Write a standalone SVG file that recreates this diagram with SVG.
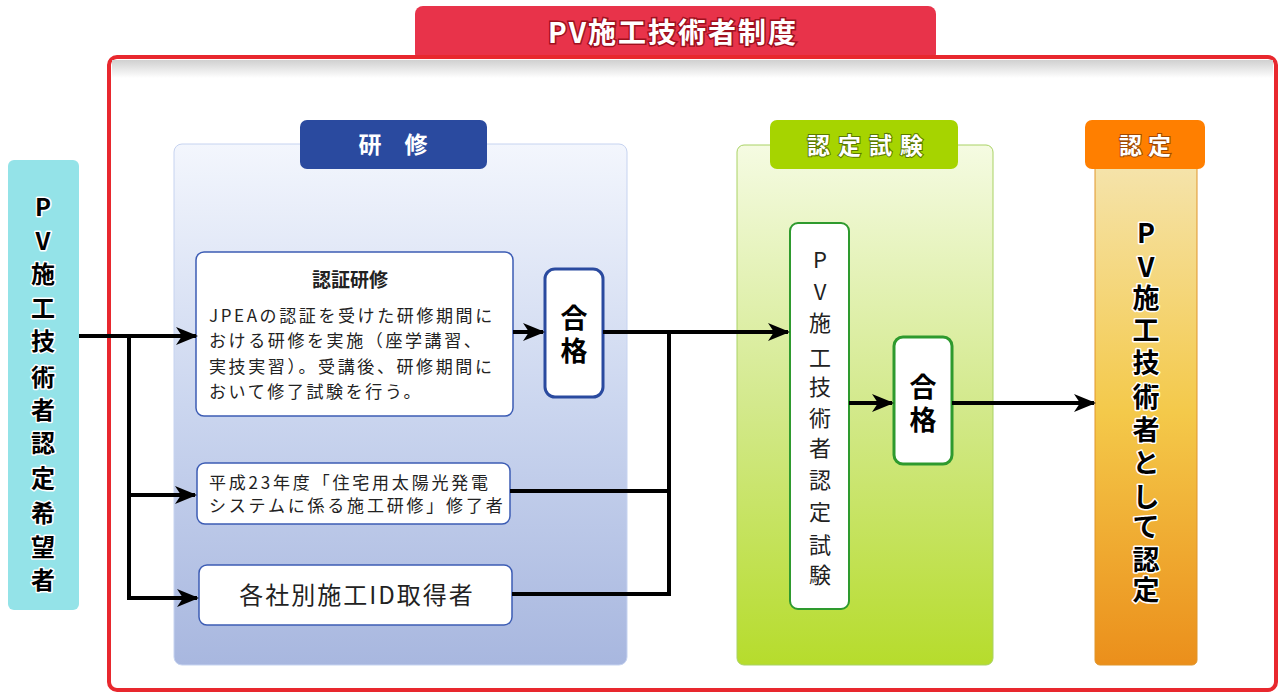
<svg xmlns="http://www.w3.org/2000/svg" width="1279" height="695" viewBox="0 0 1279 695">
<defs>
<linearGradient id="gBlue" x1="0" y1="0" x2="0" y2="1"><stop offset="0" stop-color="#f3f6fd"/><stop offset="0.5" stop-color="#cbd6ef"/><stop offset="1" stop-color="#a8b7df"/></linearGradient>
<linearGradient id="gGreen" x1="0" y1="0" x2="0" y2="1"><stop offset="0" stop-color="#f5fbe2"/><stop offset="0.5" stop-color="#d3e98c"/><stop offset="1" stop-color="#b6dc2c"/></linearGradient>
<linearGradient id="gOrange" x1="0" y1="0" x2="0" y2="1"><stop offset="0" stop-color="#f5e4ad"/><stop offset="0.5" stop-color="#f4c94a"/><stop offset="1" stop-color="#eb8f1b"/></linearGradient>
<linearGradient id="gShadow" x1="0" y1="0" x2="0" y2="1"><stop offset="0" stop-color="#d0d0d0"/><stop offset="1" stop-color="#ffffff"/></linearGradient>
<marker id="arr" markerUnits="userSpaceOnUse" markerWidth="24" markerHeight="20" refX="20" refY="10" orient="auto"><path d="M0,1 L22,10 L0,19 L6,10 z" fill="#000"/></marker>
<style>
text{font-family:"Noto Sans CJK JP","Noto Sans",sans-serif}
.ol{font-weight:bold;fill:#000;stroke:#fff;stroke-width:3;paint-order:stroke;stroke-linejoin:round}
.hd{font-weight:bold;fill:#fff;font-size:23px;text-anchor:middle}
.box{fill:#fff;stroke:#3c5cb4;stroke-width:1.5}
.gbox{fill:#fff;stroke:#2e9a2e;stroke-width:2}
.ln{fill:none;stroke:#000;stroke-width:4}
.body{font-size:17px;fill:#222;letter-spacing:2.6px}
</style>
</defs>
<g id="frame">
<rect x="415" y="6" width="521" height="56" rx="8" fill="#e8334a"/>
<rect x="109" y="57" width="1167" height="633" rx="8" fill="#fff" stroke="#e8282e" stroke-width="4"/>
<rect x="112" y="60" width="1161" height="18" fill="url(#gShadow)"/>
<text x="673" y="43" font-size="28" font-weight="bold" fill="#fff" stroke="#a0101e" stroke-width="3" paint-order="stroke" text-anchor="middle" letter-spacing="2">PV施工技術者制度</text>
</g>
<g id="applicant">
<rect x="8" y="160" width="71" height="450" rx="6" fill="#94e3e8"/>
<text class="ol" font-size="24" text-anchor="middle"><tspan x="43" y="216">P</tspan><tspan x="43" y="250">V</tspan><tspan x="43" y="283">施</tspan><tspan x="43" y="317">工</tspan><tspan x="43" y="350">技</tspan><tspan x="43" y="386">術</tspan><tspan x="43" y="419">者</tspan><tspan x="43" y="452">認</tspan><tspan x="43" y="487">定</tspan><tspan x="43" y="522">希</tspan><tspan x="43" y="556">望</tspan><tspan x="43" y="589">者</tspan></text>
</g>
<g id="training">
<rect x="174" y="144" width="453" height="521" rx="8" fill="url(#gBlue)" stroke="#c6d3f0" stroke-width="1"/>
<rect x="300" y="120" width="187" height="49" rx="7" fill="#2a4a9f"/>
<text class="hd" x="393" y="153">研　修</text>
</g>
<g id="cert-training">
<rect class="box" x="196" y="252" width="317" height="164" rx="8"/>
<text x="350" y="287" font-size="19" font-weight="bold" fill="#222" text-anchor="middle">認証研修</text>
<text class="body"><tspan x="209" y="322">JPEAの認証を受けた研修期間に</tspan><tspan x="209" y="347">おける研修を実施（座学講習、</tspan><tspan x="209" y="373">実技実習）。受講後、研修期間に</tspan><tspan x="209" y="398">おいて修了試験を行う。</tspan></text>
</g>
<g id="pass1">
<rect x="545" y="269" width="58" height="128" rx="10" fill="#fff" stroke="#2a4a9f" stroke-width="3"/>
<text font-size="27" font-weight="bold" text-anchor="middle" fill="#000"><tspan x="574" y="328">合</tspan><tspan x="574" y="361">格</tspan></text>
</g>
<g id="h23">
<rect class="box" x="197" y="463" width="313" height="61" rx="8"/>
<text class="body" font-size="16" style="letter-spacing:2.8px"><tspan x="209" y="489">平成23年度「住宅用太陽光発電</tspan><tspan x="209" y="512">システムに係る施工研修」修了者</tspan></text>
</g>
<g id="company-id">
<rect class="box" x="199" y="565" width="313" height="60" rx="8"/>
<text x="357" y="604" font-size="24" fill="#222" text-anchor="middle" letter-spacing="2">各社別施工ID取得者</text>
</g>
<g id="exam">
<rect x="737" y="145" width="256" height="520" rx="7" fill="url(#gGreen)" stroke="#a9d264" stroke-width="1"/>
<rect x="770" y="120" width="188" height="49" rx="7" fill="#a6d400"/>
<text class="hd" x="869" y="154" letter-spacing="8" stroke="#5a7a00" stroke-width="2" paint-order="stroke">認定試験</text>
</g>
<g id="exam-box">
<rect class="gbox" x="790" y="223" width="59" height="386" rx="8"/>
<text font-size="22" fill="#222" text-anchor="middle"><tspan x="820" y="268">P</tspan><tspan x="820" y="300">V</tspan><tspan x="820" y="331">施</tspan><tspan x="820" y="366">工</tspan><tspan x="820" y="395">技</tspan><tspan x="820" y="426">術</tspan><tspan x="820" y="456">者</tspan><tspan x="820" y="488">認</tspan><tspan x="820" y="520">定</tspan><tspan x="820" y="553">試</tspan><tspan x="820" y="583">験</tspan></text>
</g>
<g id="pass2">
<rect x="894" y="337" width="58" height="127" rx="9" fill="#fff" stroke="#2e9a2e" stroke-width="3"/>
<text font-size="27" font-weight="bold" text-anchor="middle" fill="#000"><tspan x="923" y="397">合</tspan><tspan x="923" y="430">格</tspan></text>
</g>
<g id="certified">
<rect x="1095" y="160" width="102" height="505" rx="5" fill="url(#gOrange)" stroke="#e0952a" stroke-width="1"/>
<rect x="1085" y="120" width="120" height="49" rx="7" fill="#ff7f00"/>
<text class="hd" x="1148" y="154" letter-spacing="6" stroke="#a04800" stroke-width="2" paint-order="stroke">認定</text>
<text class="ol" font-size="27" text-anchor="middle"><tspan x="1146" y="243">P</tspan><tspan x="1146" y="277">V</tspan><tspan x="1146" y="308">施</tspan><tspan x="1146" y="340">工</tspan><tspan x="1146" y="373">技</tspan><tspan x="1146" y="407">術</tspan><tspan x="1146" y="440">者</tspan><tspan x="1146" y="473">と</tspan><tspan x="1146" y="507">し</tspan><tspan x="1146" y="537">て</tspan><tspan x="1146" y="570">認</tspan><tspan x="1146" y="600">定</tspan></text>
</g>
<g id="connectors">
<path class="ln" d="M79,336 H196" marker-end="url(#arr)"/>
<path class="ln" d="M129,336 V598 H197" marker-end="url(#arr)"/>
<path class="ln" d="M129,495 H195" marker-end="url(#arr)"/>
<path class="ln" d="M513,332 H543" marker-end="url(#arr)"/>
<path class="ln" d="M603,332 H788" marker-end="url(#arr)"/>
<path class="ln" d="M510,491 H669"/>
<path class="ln" d="M512,594 H669 V330"/>
<path class="ln" d="M849,403 H892" marker-end="url(#arr)"/>
<path class="ln" d="M952,403 H1094" marker-end="url(#arr)"/>
</g>
</svg>
